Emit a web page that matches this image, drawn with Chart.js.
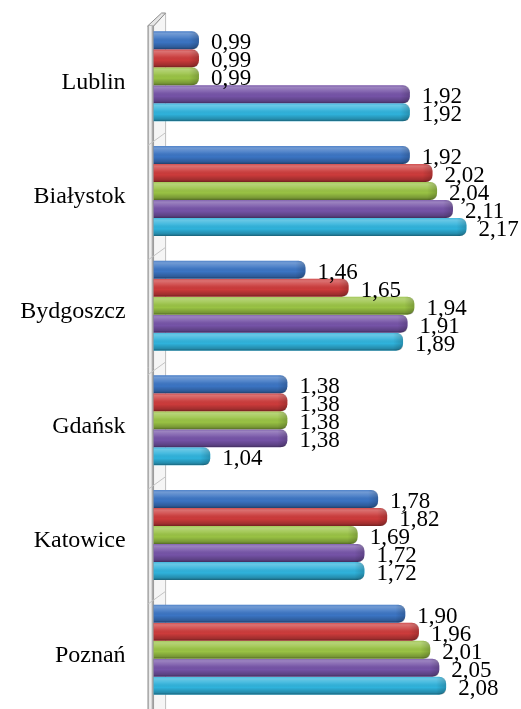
<!DOCTYPE html>
<html>
<head>
<meta charset="utf-8">
<script src="https://cdn.jsdelivr.net/npm/chart.js@4/dist/chart.umd.min.js"></script>
<style>
  html, body { margin: 0; padding: 0; background: #ffffff; }
  #wrap { width: 521px; height: 709px; position: relative; }
</style>
</head>
<body>
<div id="wrap"><canvas id="c"></canvas></div>
<script>
// Cities (category axis)
const cities = ['Lublin', 'Białystok', 'Bydgoszcz', 'Gdańsk', 'Katowice', 'Poznań'];

// Five series per city
const series1 = [0.99, 1.92, 1.46, 1.38, 1.78, 1.90];
const series2 = [0.99, 2.02, 1.65, 1.38, 1.82, 1.96];
const series3 = [0.99, 2.04, 1.94, 1.38, 1.69, 2.01];
const series4 = [1.92, 2.11, 1.91, 1.38, 1.72, 2.05];
const series5 = [1.92, 2.17, 1.89, 1.04, 1.72, 2.08];

const seriesNames = ['Seria 1', 'Seria 2', 'Seria 3', 'Seria 4', 'Seria 5'];
const seriesColors = ['#3b74c3', '#cc3b3b', '#99c244', '#7553a7', '#2fb2db'];

const allSeries = [series1, series2, series3, series4, series5];

const fmt = v => v.toFixed(2).replace('.', ',');

// Grey side wall on the left of the plot
const wallPlugin = {
  id: 'wall',
  beforeDatasetsDraw(chart) {
    const ctx = chart.ctx;
    const L = chart.chartArea.left;
    const fx0 = L - 6, fx1 = L, dx = 12, dy = 13;
    const top = 26, bot = 703;
    ctx.save();
    // receding side face
    ctx.beginPath();
    ctx.moveTo(fx1, top);
    ctx.lineTo(fx1 + dx, top - dy);
    ctx.lineTo(fx1 + dx, bot + 6);
    ctx.lineTo(fx1, bot + 19);
    ctx.closePath();
    ctx.fillStyle = '#f5f5f5';
    ctx.fill();
    ctx.strokeStyle = '#bdbdbd';
    ctx.lineWidth = 1;
    ctx.stroke();
    // top edge
    ctx.beginPath();
    ctx.moveTo(fx0, top);
    ctx.lineTo(fx0 + dx + 2, top - dy);
    ctx.lineTo(fx1 + dx, top - dy);
    ctx.lineTo(fx1, top);
    ctx.closePath();
    ctx.fillStyle = '#e6e6e6';
    ctx.fill();
    ctx.strokeStyle = '#8c8c8c';
    ctx.stroke();
    // front face
    const g = ctx.createLinearGradient(fx0, 0, fx1, 0);
    g.addColorStop(0, '#d4d4d4');
    g.addColorStop(0.45, '#f2f2f2');
    g.addColorStop(1, '#a9a9a9');
    ctx.fillStyle = g;
    ctx.fillRect(fx0, top, fx1 - fx0, 709 - top);
    ctx.strokeStyle = '#8c8c8c';
    ctx.beginPath();
    ctx.moveTo(fx0 + 0.5, top); ctx.lineTo(fx0 + 0.5, 709);
    ctx.moveTo(fx1 - 0.5, top); ctx.lineTo(fx1 - 0.5, 709);
    ctx.stroke();
    // slanted marks between category groups
    const ys = chart.scales.y;
    ctx.strokeStyle = '#c4c4c4';
    for (let i = 1; i < cities.length; i++) {
      const b = (ys.getPixelForValue(i - 1) + ys.getPixelForValue(i)) / 2 + 6;
      ctx.beginPath();
      ctx.moveTo(fx0, b + 6);
      ctx.lineTo(fx1 + dx, b - dy + 6);
      ctx.stroke();
    }
    ctx.restore();
  }
};

// Cylinder-like shading over each bar, then the value labels
const shadePlugin = {
  id: 'shade',
  afterDatasetsDraw(chart) {
    const ctx = chart.ctx;
    const left = chart.chartArea.left;
    ctx.save();
    chart.data.datasets.forEach((ds, di) => {
      const meta = chart.getDatasetMeta(di);
      meta.data.forEach(el => {
        const x0 = Math.max(el.base, left), x1 = el.x, h = el.height;
        const y0 = el.y - h / 2, y1 = el.y + h / 2;
        const r = 7;
        ctx.save();
        ctx.beginPath();
        ctx.moveTo(x0, y0);
        ctx.lineTo(x1 - r, y0);
        ctx.quadraticCurveTo(x1, y0, x1, y0 + r);
        ctx.lineTo(x1, y1 - r);
        ctx.quadraticCurveTo(x1, y1, x1 - r, y1);
        ctx.lineTo(x0, y1);
        ctx.closePath();
        ctx.clip();
        const g = ctx.createLinearGradient(0, y0, 0, y1);
        g.addColorStop(0, 'rgba(255,255,255,0.10)');
        g.addColorStop(0.12, 'rgba(255,255,255,0.28)');
        g.addColorStop(0.35, 'rgba(255,255,255,0.10)');
        g.addColorStop(0.6, 'rgba(0,0,0,0.0)');
        g.addColorStop(0.88, 'rgba(0,0,0,0.22)');
        g.addColorStop(1, 'rgba(0,0,0,0.45)');
        ctx.fillStyle = g;
        ctx.fillRect(x0, y0, x1 - x0, h);
        // darker rounded end
        const e = ctx.createLinearGradient(x1 - 10, 0, x1, 0);
        e.addColorStop(0, 'rgba(0,0,0,0)');
        e.addColorStop(1, 'rgba(0,0,0,0.18)');
        ctx.fillStyle = e;
        ctx.fillRect(x1 - 10, y0, 10, h);
        ctx.restore();
      });
    });
    // value labels
    ctx.font = '23px "Liberation Serif"';
    ctx.fillStyle = '#000000';
    ctx.textAlign = 'left';
    ctx.textBaseline = 'middle';
    chart.data.datasets.forEach((ds, di) => {
      const meta = chart.getDatasetMeta(di);
      meta.data.forEach((el, i) => {
        ctx.fillText(fmt(ds.data[i]), el.x + 12, el.y + 3);
      });
    });
    ctx.restore();
  }
};

new Chart(document.getElementById('c'), {
  type: 'bar',
  data: {
    labels: cities,
    datasets: allSeries.map((d, i) => ({
      label: seriesNames[i],
      data: d,
      backgroundColor: seriesColors[i],
      borderWidth: 0,
      borderRadius: 7,
      borderSkipped: 'start',
      categoryPercentage: 0.785,
      barPercentage: 1.0
    }))
  },
  options: {
    indexAxis: 'y',
    responsive: true,
    maintainAspectRatio: false,
    animation: false,
    layout: { padding: { top: 19, bottom: 2, left: 0, right: 0 } },
    plugins: {
      legend: { display: false },
      tooltip: { enabled: false }
    },
    scales: {
      x: {
        display: false,
        min: 0.79,
        max: 2.41
      },
      y: {
        grid: { display: false, drawTicks: false },
        border: { display: false },
        afterFit(scale) {
          scale.width = 153.6;
          scale.paddingTop = 0;
          scale.paddingBottom = 0;
        },
        ticks: {
          padding: 28,
          labelOffset: 6,
          color: '#000000',
          font: { family: '"Liberation Serif"', size: 24 }
        }
      }
    }
  },
  plugins: [wallPlugin, shadePlugin]
});
</script>
</body>
</html>
